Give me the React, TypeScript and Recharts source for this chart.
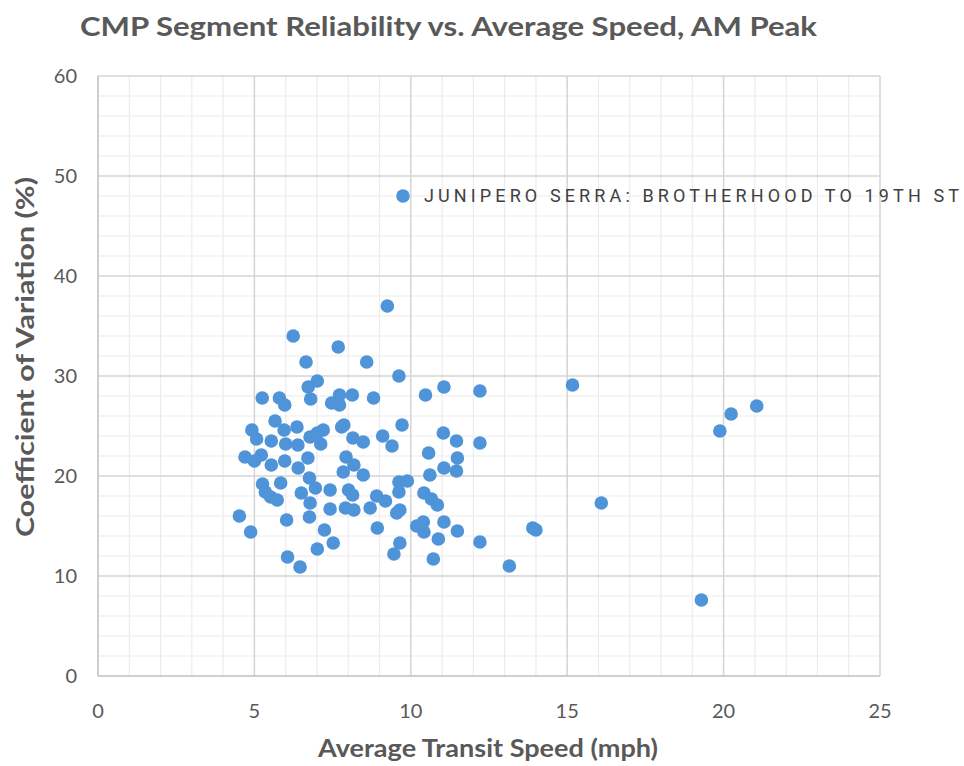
import React from 'react';
import { ScatterChart, Scatter, XAxis, YAxis, ReferenceLine } from 'recharts';

// Average transit speed (mph)
const speeds = [
  6.24, 7.68, 6.65, 8.59, 9.62, 7.01, 6.72, 11.06, 10.47, 12.21,
  5.25, 5.80, 5.97, 6.80, 7.47, 7.72, 7.72, 8.13, 8.81, 5.66,
  4.92, 5.07, 5.95, 6.36, 6.78, 7.01, 7.20, 7.12, 5.54, 6.00,
  6.39, 7.79, 7.86, 8.15, 8.48, 9.10, 9.40, 9.72, 11.04, 11.46,
  12.21, 10.57, 11.49, 11.06, 11.46, 10.61, 4.70, 5.00, 5.22, 5.54,
  5.97, 6.71, 6.40, 6.76, 6.95, 5.84, 5.26, 5.35, 5.52, 5.73,
  6.50, 6.78, 7.42, 7.93, 8.18, 7.84, 8.48, 8.01, 8.14, 7.42,
  7.91, 8.18, 8.70, 8.91, 9.19, 9.62, 9.89, 9.62, 9.65, 9.55,
  10.42, 10.66, 10.85, 10.40, 10.42, 11.06, 11.49, 10.88, 10.72, 12.21,
  9.65, 9.46, 8.93, 4.52, 4.88, 6.03, 6.76, 7.24, 7.52, 7.01,
  6.06, 6.46, 9.25, 15.17, 16.09, 13.90, 14.00, 13.15, 21.06, 20.24,
  19.88, 19.29, 10.19,
];

// Coefficient of variation (%)
const covs = [
  34.0, 32.9, 31.4, 31.4, 30.0, 29.5, 28.9, 28.9, 28.1, 28.5,
  27.8, 27.8, 27.1, 27.7, 27.3, 28.1, 27.1, 28.1, 27.8, 25.5,
  24.6, 23.7, 24.6, 24.9, 23.9, 24.3, 24.6, 23.2, 23.5, 23.2,
  23.1, 24.9, 25.1, 23.8, 23.4, 24.0, 23.0, 25.1, 24.3, 23.5,
  23.3, 22.3, 21.8, 20.8, 20.5, 20.1, 21.9, 21.5, 22.1, 21.1,
  21.5, 21.8, 20.8, 19.8, 18.8, 19.3, 19.2, 18.4, 17.9, 17.6,
  18.3, 17.3, 18.6, 21.9, 21.1, 20.4, 20.1, 18.6, 18.1, 16.7,
  16.8, 16.6, 16.8, 18.0, 17.5, 19.4, 19.5, 18.4, 16.6, 16.3,
  18.3, 17.7, 17.1, 15.4, 14.4, 15.4, 14.5, 13.7, 11.7, 13.4,
  13.3, 12.2, 14.8, 16.0, 14.4, 15.6, 15.9, 14.6, 13.3, 12.7,
  11.9, 10.9, 37.0, 29.1, 17.3, 14.8, 14.6, 11.0, 27.0, 26.2,
  24.5, 7.6, 15.0,
];

// Labelled segment
const labelSpeeds = [9.75];
const labelCovs = [48.0];
const labelNames = ['JUNIPERO SERRA: BROTHERHOOD TO 19TH ST'];

const xTicks = [0, 5, 10, 15, 20, 25];
const yTicks = [0, 10, 20, 30, 40, 50, 60];
const xMinor = [1, 2, 3, 4, 6, 7, 8, 9, 11, 12, 13, 14, 16, 17, 18, 19, 21, 22, 23, 24];
const yMinor = [2, 4, 6, 8, 12, 14, 16, 18, 22, 24, 26, 28, 32, 34, 36, 38, 42, 44, 46, 48, 52, 54, 56, 58];

const BLUE = '#4f93d8';
const TEXT = '#595959';
const FONT = 'Lato, "Open Sans", sans-serif';

const points = speeds.map((x, i) => ({ x, y: covs[i] }));
const labelled = labelSpeeds.map((x, i) => ({ x, y: labelCovs[i], name: labelNames[i] }));

const Dot = (p: any) => <circle cx={p.cx} cy={p.cy} r={6.8} fill={BLUE} />;

const LabelledDot = (p: any) => (
  <g>
    <circle cx={p.cx} cy={p.cy} r={6.8} fill={BLUE} />
    <text
      x={p.cx + 21}
      y={p.cy}
      dy="0.36em"
      fontFamily='Roboto, "Open Sans", sans-serif'
      fontSize={18}
      fill="#404040"
      textLength={535}
      lengthAdjust="spacing"
    >
      {p.payload.name}
    </text>
  </g>
);

export default function App() {
  return (
    <div style={{ position: 'absolute', left: 0, top: 0, width: 964, height: 766, background: '#fff' }}>
      <ScatterChart width={964} height={766} margin={{ top: 76, right: 84, bottom: 60, left: 0 }}>
        {xMinor.map((v) => (
          <ReferenceLine key={'xm' + v} x={v} stroke="#ececec" strokeWidth={1.2} />
        ))}
        {yMinor.map((v) => (
          <ReferenceLine key={'ym' + v} y={v} stroke="#ececec" strokeWidth={1.2} />
        ))}
        {xTicks.slice(1).map((v) => (
          <ReferenceLine key={'xM' + v} x={v} stroke="#d4d4d4" strokeWidth={1.5} />
        ))}
        {yTicks.slice(1).map((v) => (
          <ReferenceLine key={'yM' + v} y={v} stroke="#d4d4d4" strokeWidth={1.5} />
        ))}
        <XAxis
          type="number"
          dataKey="x"
          domain={[0, 25]}
          ticks={xTicks}
          height={30}
          tickSize={0}
          tickMargin={28}
          axisLine={{ stroke: '#bfbfbf', strokeWidth: 1.5 }}
          tick={{ fill: TEXT, fontSize: 20, fontFamily: FONT }}
        />
        <YAxis
          type="number"
          dataKey="y"
          domain={[0, 60]}
          ticks={yTicks}
          width={98}
          tickSize={0}
          tickMargin={21}
          axisLine={{ stroke: '#bfbfbf', strokeWidth: 1.5 }}
          tick={{ fill: TEXT, fontSize: 20, fontFamily: FONT }}
        />
        <Scatter data={points} fill={BLUE} shape={Dot} isAnimationActive={false} />
        <Scatter data={labelled} fill={BLUE} shape={LabelledDot} isAnimationActive={false} />
      </ScatterChart>
      <svg
        width={964}
        height={766}
        style={{ position: 'absolute', left: 0, top: 0, pointerEvents: 'none' }}
      >
        <text
          x={80}
          y={36}
          fontFamily={FONT}
          fontWeight="bold"
          fontSize={27}
          fill={TEXT}
          textLength={737}
          lengthAdjust="spacingAndGlyphs"
        >
          CMP Segment Reliability vs. Average Speed, AM Peak
        </text>
        <text
          x={488}
          y={757}
          textAnchor="middle"
          fontFamily={FONT}
          fontWeight="bold"
          fontSize={25}
          fill={TEXT}
          textLength={340}
          lengthAdjust="spacingAndGlyphs"
        >
          Average Transit Speed (mph)
        </text>
        <text
          x={0}
          y={0}
          transform="translate(34, 357) rotate(-90)"
          textAnchor="middle"
          fontFamily={FONT}
          fontWeight="bold"
          fontSize={24}
          fill={TEXT}
          textLength={360}
          lengthAdjust="spacingAndGlyphs"
        >
          Coefficient of Variation (%)
        </text>
      </svg>
    </div>
  );
}
